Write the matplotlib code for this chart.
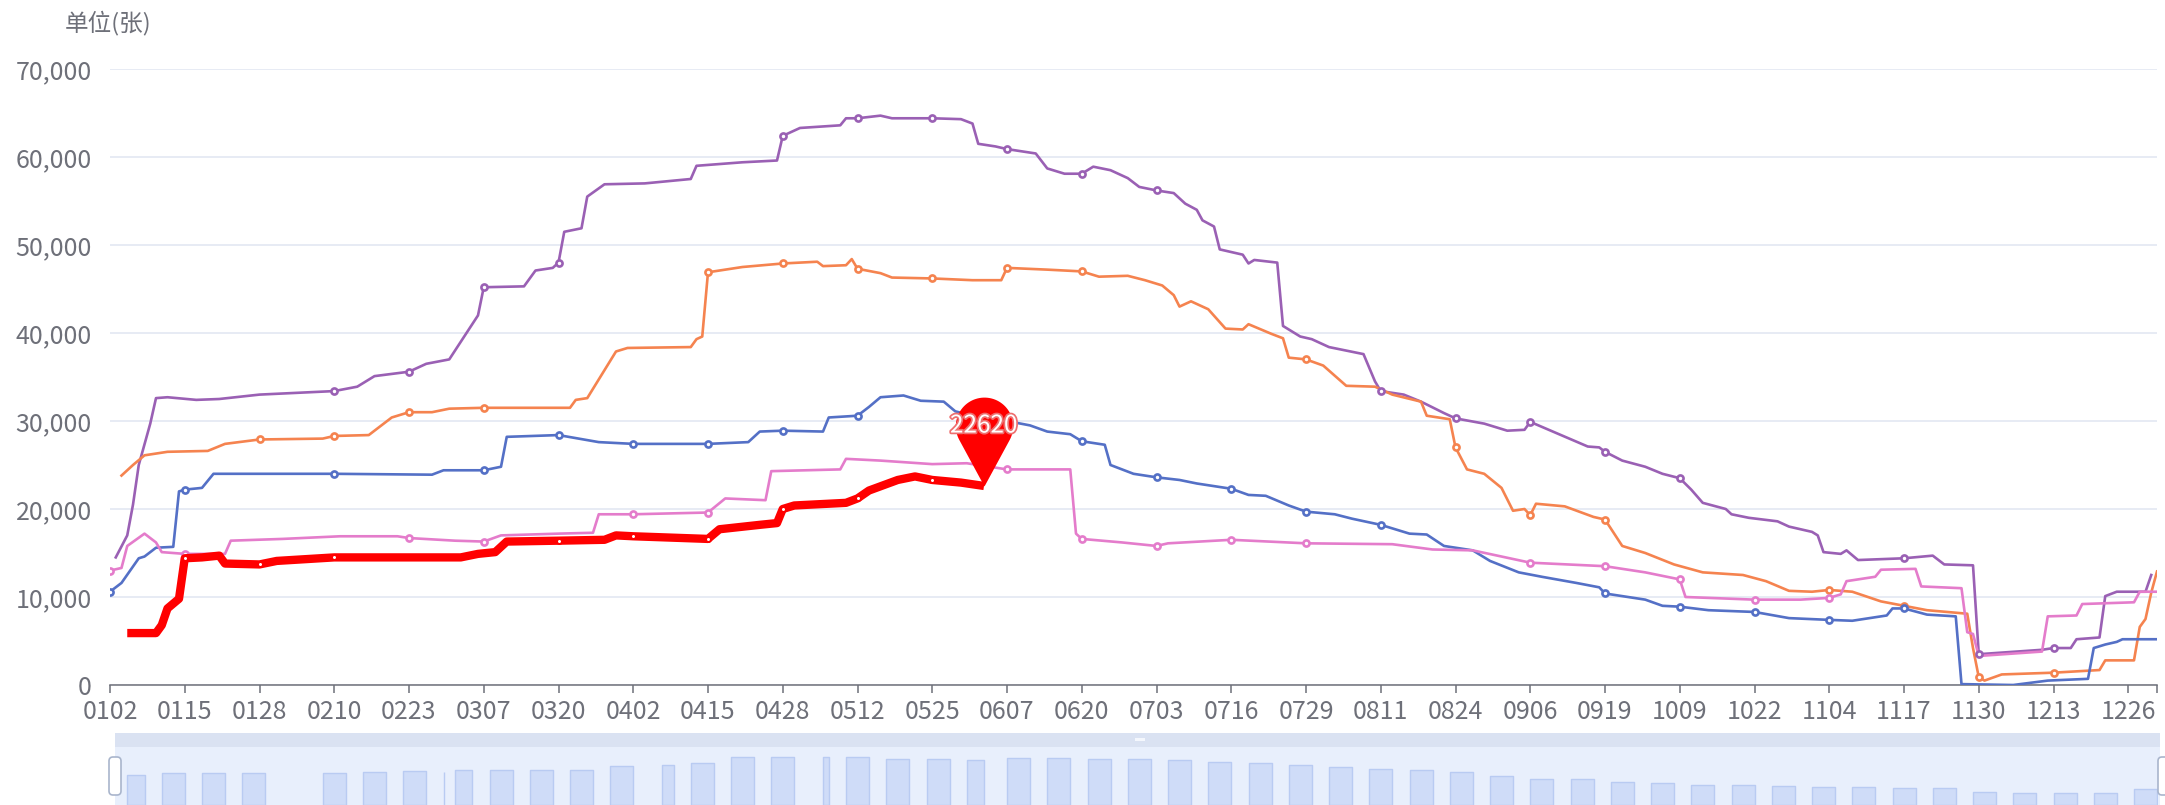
import matplotlib
matplotlib.use('Agg')
import matplotlib.pyplot as plt
from matplotlib.path import Path
from matplotlib.patches import Rectangle, FancyBboxPatch
import matplotlib.patheffects as pe
import numpy as np
import pandas as pd

plt.rcParams['font.family'] = ['Noto Sans CJK SC', 'DejaVu Sans']

# ---------------- categories (MMDD) ----------------
_days = pd.date_range('2020-01-02', '2020-12-31', freq='D').strftime('%m%d')
skipped_days = ['0501', '1001', '1002', '1003', '1004', '1005', '1006', '1007']
categories = [d for d in _days if d not in skipped_days]
tick_labels = ['0102', '0115', '0128', '0210', '0223', '0307', '0320', '0402', '0415', '0428',
               '0512', '0525', '0607', '0620', '0703', '0716', '0729', '0811', '0824', '0906',
               '0919', '1009', '1022', '1104', '1117', '1130', '1213', '1226']

# ---------------- series (dates, values) ----------------
purple_dates = ['0103','0105','0106','0107','0109','0110','0112','0117','0121','0128',
                '0210','0214','0217','0223','0226','0301','0304','0306','0307','0314',
                '0316','0319','0320','0321','0324','0325','0328','0404','0412','0413',
                '0421','0427','0428','0502','0509','0510','0512','0516','0518','0525',
                '0530','0601','0602','0605','0607','0612','0614','0617','0620','0622',
                '0625','0628','0630','0703','0706','0708','0710','0711','0713','0714',
                '0718','0719','0720','0724','0725','0728','0730','0802','0808','0810',
                '0811','0815','0818','0822','0824','0829','0902','0905','0906','0911',
                '0916','0918','0919','0922','0926','0929','1009','1011','1013','1017',
                '1018','1021','1026','1028','1101','1102','1103','1106','1107','1109',
                '1117','1122','1124','1129','1130','1211','1213','1216','1217','1221',
                '1222','1224','1228','1229','1230']
purple_vals = [14500,17000,20500,25000,29700,32600,32700,32400,32500,33000,
               33400,33900,35100,35600,36500,37000,40000,42000,45200,45300,
               47100,47400,48000,51500,51900,55500,56900,57000,57500,59000,
               59400,59600,62400,63300,63600,64400,64400,64700,64400,64400,
               64300,63800,61500,61200,60900,60400,58700,58100,58100,58900,
               58500,57600,56600,56200,55900,54700,54000,52800,52100,49500,
               48900,47900,48300,48000,40800,39600,39300,38400,37600,34500,
               33400,33000,32200,30900,30300,29700,28900,29000,29900,28500,
               27100,27000,26500,25500,24800,24000,23500,22200,20700,20000,
               19400,19000,18600,18000,17400,17000,15100,14900,15300,14200,
               14400,14700,13700,13600,3500,4000,4200,4200,5200,5400,
               10100,10600,10600,10600,12500]
purple_marks = ['0210','0223','0307','0320','0428','0512','0525','0607','0620','0703',
                '0811','0824','0906','0919','1009','1117','1130','1213']

orange_dates = ['0104','0106','0108','0112','0119','0122','0128','0208','0210','0216',
                '0217','0220','0223','0227','0301','0307','0322','0323','0325','0330',
                '0401','0412','0413','0414','0415','0421','0428','0505','0506','0510',
                '0511','0512','0516','0518','0525','0601','0606','0607','0614','0620',
                '0623','0628','0701','0704','0706','0707','0709','0712','0715','0718',
                '0719','0723','0725','0726','0729','0801','0805','0810','0813','0818',
                '0819','0823','0824','0826','0829','0901','0903','0905','0906','0907',
                '0912','0917','0919','0922','0926','1008','1013','1020','1024','1028',
                '1101','1104','1108','1113','1117','1121','1128','1129','1130','1201',
                '1204','1213','1221','1222','1227','1228','1229','1230','1231']
orange_vals = [23800,25000,26100,26500,26600,27400,27900,28000,28300,28400,
               28900,30400,31000,31000,31400,31500,31500,32400,32600,37900,
               38300,38400,39300,39600,46900,47500,47900,48100,47600,47700,
               48400,47300,46800,46300,46200,46000,46000,47400,47200,47000,
               46400,46500,46000,45400,44300,43000,43600,42700,40500,40400,
               41000,39900,39400,37200,37000,36300,34000,33900,33000,32200,
               30600,30200,27000,24500,24000,22400,19800,20000,19300,20600,
               20300,19100,18800,15800,15000,13700,12800,12500,11800,10700,
               10600,10800,10600,9500,9000,8500,8100,4200,900,500,
               1200,1400,1700,2800,2800,6600,7500,10500,12900]
orange_marks = ['0128','0210','0223','0307','0415','0428','0512','0525','0607','0620',
                '0729','0824','0906','0919','1104','1117','1130','1213']

blue_dates = ['0102','0104','0107','0108','0110','0113','0114','0115','0118','0120',
              '0210','0227','0229','0307','0310','0311','0320','0327','0402','0415',
              '0422','0424','0428','0506','0507','0512','0514','0516','0520','0523',
              '0527','0529','0601','0607','0611','0614','0618','0620','0624','0625',
              '0629','0703','0707','0710','0716','0719','0722','0726','0729','0803',
              '0806','0811','0816','0819','0822','0827','0830','0904','0908','0914',
              '0918','0919','0926','0929','1009','1014','1022','1028','1104','1108',
              '1114','1115','1117','1121','1126','1127','1206','1212','1219','1220',
              '1222','1224','1225','1231']
blue_vals = [10600,11600,14400,14600,15600,15700,22000,22200,22400,24000,
             24000,23900,24400,24400,24800,28200,28400,27600,27400,27400,
             27600,28800,28900,28800,30400,30600,31600,32700,32900,32300,
             32200,31100,30600,30000,29500,28800,28500,27700,27300,25000,
             24000,23600,23300,22900,22300,21600,21500,20400,19700,19400,
             18900,18200,17200,17100,15800,15300,14100,12800,12300,11600,
             11100,10400,9700,9000,8900,8500,8300,7600,7400,7300,
             7900,8700,8700,8000,7800,100,0,500,700,4200,
             4600,4900,5200,5200]
blue_marks = ['0102','0115','0210','0307','0320','0402','0415','0428','0512','0620',
              '0703','0716','0729','0811','0919','1009','1022','1104','1117']

pink_dates = ['0102','0104','0105','0108','0110','0111','0115','0122','0123','0201',
              '0211','0221','0223','0302','0307','0310','0320','0326','0327','0402',
              '0415','0418','0425','0426','0509','0510','0516','0525','0531','0607',
              '0618','0619','0620','0627','0703','0705','0716','0729','0813','0820',
              '0827','0906','0919','0926','1009','1010','1022','1030','1104','1106',
              '1107','1112','1113','1119','1120','1127','1128','1129','1130','1211',
              '1212','1217','1218','1227','1228','1231']
pink_vals = [13000,13300,15800,17200,16200,15100,14900,14900,16400,16600,
             16900,16900,16700,16400,16300,17000,17200,17300,19400,19400,
             19600,21200,21000,24300,24500,25700,25500,25100,25200,24500,
             24500,17200,16600,16200,15800,16100,16500,16100,16000,15400,
             15300,13900,13500,12800,12000,10000,9700,9700,9900,10300,
             11800,12300,13100,13200,11200,11000,6000,5800,3300,3800,
             7800,7900,9200,9400,10600,10600]
pink_marks = ['0102','0115','0223','0307','0402','0415','0607','0620','0703','0716',
              '0729','0906','0919','1009','1022','1104']

red_dates = ['0105','0110','0111','0112','0114','0115','0118','0121','0122','0128',
             '0131','0210','0303','0306','0309','0311','0320','0328','0330','0402',
             '0415','0417','0424','0427','0428','0430','0510','0512','0514','0519',
             '0522','0525','0530','0603']
red_vals = [5900,5900,6800,8700,9800,14400,14500,14700,13800,13700,
            14100,14500,14500,14900,15100,16300,16400,16500,17000,16900,
            16600,17700,18200,18400,20000,20400,20700,21200,22100,23300,
            23700,23300,23000,22620]
red_marks = ['0115','0128','0210','0320','0402','0415','0428','0512','0525']

# data-zoom shadow (weekly runs of the shadow series)
shadow_start = ['0105','0111','0118','0125','0208','0215','0222','0229','0302','0308',
                '0315','0322','0329','0407','0412','0419','0426','0506','0510','0517',
                '0524','0531','0607','0614','0621','0628','0705','0712','0719','0726',
                '0802','0809','0816','0823','0830','0906','0913','0920','0927','1011',
                '1018','1025','1101','1108','1115','1122','1129','1206','1213','1220',
                '1227']
shadow_end = ['0108','0115','0122','0129','0212','0219','0226','0229','0305','0312',
              '0319','0326','0402','0409','0416','0423','0430','0507','0514','0521',
              '0528','0603','0611','0618','0625','0702','0709','0716','0723','0730',
              '0806','0813','0820','0827','0903','0910','0917','0924','1008','1015',
              '1022','1029','1105','1112','1119','1126','1203','1210','1217','1224',
              '1231']
shadow_vals = [30,32,32,32,32,33,34,33,35,35,
               35,35,39,40,42,48,48,48,48,46,
               46,45,47,47,46,46,45,43,42,40,
               38,36,35,33,29,26,26,23,22,20,
               20,19,18,18,17,17,13,12,12,12,
               16]

# ---------------- figure ----------------
W, H = 2165, 805
fig = plt.figure(figsize=(W / 100, H / 100), dpi=100)
ax = fig.add_axes([110 / W, 120 / H, 2047 / W, 616 / H])

pos = {c: i for i, c in enumerate(categories)}
TXT = '#6e7079'

series = [
    (purple_dates, purple_vals, purple_marks, '#9a60b4'),
    (orange_dates, orange_vals, orange_marks, '#f5834f'),
    (blue_dates, blue_vals, blue_marks, '#5470c6'),
    (pink_dates, pink_vals, pink_marks, '#e47ccb'),
]
for dates, vals, marks, col in series:
    xs = [pos[d] for d in dates]
    ax.plot(xs, vals, color=col, lw=1.9, solid_joinstyle='round', zorder=3)
    mx = [pos[d] for d in dates if d in marks]
    my = [v for d, v in zip(dates, vals) if d in marks]
    ax.plot(mx, my, ls='none', marker='o', ms=4.4, mfc='white', mec=col, mew=1.9, zorder=4)

rx = [pos[d] for d in red_dates]
ax.plot(rx, red_vals, color='#ff0000', lw=6.0, solid_joinstyle='round',
        solid_capstyle='butt', zorder=5)
mx = [pos[d] for d in red_dates if d in red_marks]
my = [v for d, v in zip(red_dates, red_vals) if d in red_marks]
ax.plot(mx, my, ls='none', marker='o', ms=3.6, mfc='white', mec='#ff0000', mew=1.4, zorder=6)

# pin marker on last red point
R, c = 1.0, 2.1
th = np.degrees(np.arccos(R / c))
ang = np.radians(np.linspace(-90 + th, 270 - th, 60))
verts = [(0, 0)] + [(R * np.cos(a), c + R * np.sin(a)) for a in ang] + [(0, 0)]
codes = [Path.MOVETO] + [Path.LINETO] * (len(verts) - 2) + [Path.CLOSEPOLY]
pin = Path(verts, codes)
px, py = rx[-1], red_vals[-1]
ax.plot([px], [py], ls='none', marker=pin, ms=128, mfc='#ff0000', mec='#ff0000', mew=0,
        zorder=7, clip_on=False)
ax.annotate(f'{red_vals[-1]}', xy=(px, py), xytext=(0, 43.5), textcoords='offset points',
            ha='center', va='center', fontsize=17.5, color='white', zorder=8,
            path_effects=[pe.Stroke(linewidth=2.5, foreground='#ee6f6f'), pe.Normal()])

# axes styling
ax.set_xlim(0, len(categories) - 1)
ax.set_ylim(0, 70000)
ax.set_yticks(range(0, 70001, 10000))
ax.set_yticklabels([f'{v:,}' for v in range(0, 70001, 10000)])
ax.yaxis.grid(True, color='#e0e6f1', lw=1.1)
ax.set_axisbelow(True)
for s in ['top', 'right', 'left']:
    ax.spines[s].set_visible(False)
ax.spines['bottom'].set_color(TXT)
ax.spines['bottom'].set_linewidth(1.1)
ax.spines['bottom'].set_zorder(2)
ax.tick_params(axis='y', length=0, pad=13, labelsize=18, labelcolor=TXT)
ax.set_xticks([pos[t] for t in tick_labels] + [len(categories) - 1])
ax.set_xticklabels(tick_labels + [''])
ax.tick_params(axis='x', length=5.8, width=1.1, color=TXT, pad=4, labelsize=18, labelcolor=TXT)

fig.text(108 / W, 1 - 22.5 / H, '单位(张)', ha='center', va='center', fontsize=17, color=TXT)

# ---------------- data zoom slider ----------------
sax = fig.add_axes([110 / W, 0, 2047 / W, 72 / H])
sax.set_xlim(0, len(categories) - 1)
sax.set_ylim(0, 72)
sax.axis('off')
k = (len(categories) - 1) / 2047.0  # category units per pixel
sax.add_patch(Rectangle((5 * k, 0), 2045 * k, 72, facecolor='#e8effc', edgecolor='none',
                        zorder=1, clip_on=False))
sax.add_patch(Rectangle((5 * k, 58), 2045 * k, 14, facecolor='#dae2f2', edgecolor='none',
                        zorder=2, clip_on=False))
for s0, s1, v in zip(shadow_start, shadow_end, shadow_vals):
    a, b = pos[s0], pos[s1]
    sax.fill_between([a, b], [0, 0], [v, v], facecolor='#cfdcf8', edgecolor='#b9cbf2',
                     lw=1.0, zorder=3)
sax.add_patch(Rectangle(((1140 - 110) * k - 5 * k, 64), 10 * k, 3, facecolor='#f4f7fd',
                        edgecolor='none', zorder=4))
for hx in [0, 2049]:
    sax.add_patch(FancyBboxPatch(((hx - 1) * k, 10), 12 * k, 38,
                                 boxstyle=f'round,pad=0,rounding_size={4 * k}',
                                 mutation_aspect=1 / k,
                                 facecolor='white', edgecolor='#a9b5cc', lw=1.2,
                                 zorder=5, clip_on=False))

fig.savefig('out.png', dpi=100)
